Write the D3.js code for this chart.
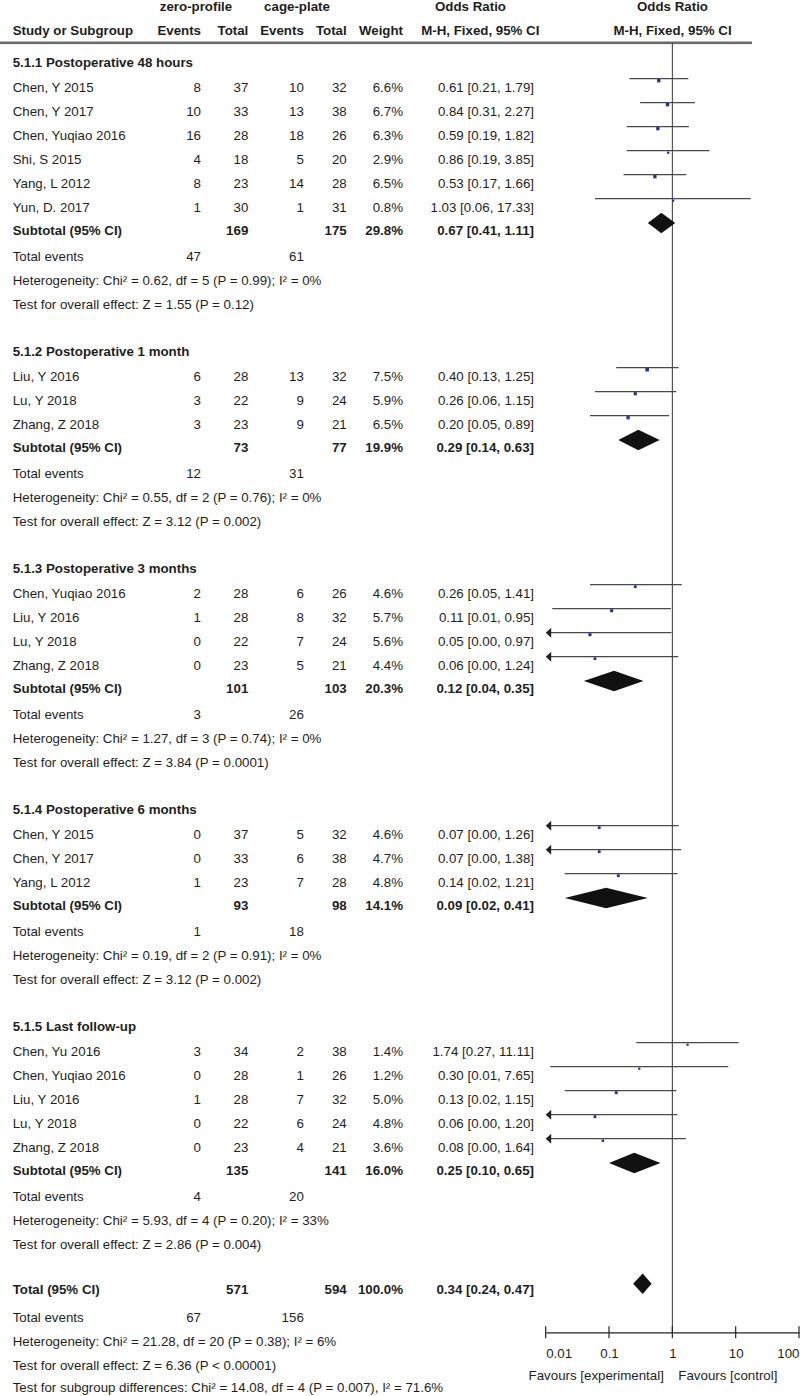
<!DOCTYPE html>
<html><head><meta charset="utf-8">
<script src="https://cdn.jsdelivr.net/npm/d3@7"></script>
<style>body{margin:0;background:#fff}svg{display:block}text{font-family:"Liberation Sans",Arial,sans-serif;font-size:13.3px;fill:#1e1e1e}</style>
</head><body><svg id="c" width="800" height="1396"></svg>
<script>
// ---------- data ----------
const groupNames = ["5.1.1 Postoperative 48 hours","5.1.2 Postoperative 1 month","5.1.3 Postoperative 3 months","5.1.4 Postoperative 6 months","5.1.5 Last follow-up"];
const studyGroup = [0,0,0,0,0,0, 1,1,1, 2,2,2,2, 3,3,3, 4,4,4,4,4];
const studyNames = ["Chen, Y 2015","Chen, Y 2017","Chen, Yuqiao 2016","Shi, S 2015","Yang, L 2012","Yun, D. 2017",
  "Liu, Y 2016","Lu, Y 2018","Zhang, Z 2018",
  "Chen, Yuqiao 2016","Liu, Y 2016","Lu, Y 2018","Zhang, Z 2018",
  "Chen, Y 2015","Chen, Y 2017","Yang, L 2012",
  "Chen, Yu 2016","Chen, Yuqiao 2016","Liu, Y 2016","Lu, Y 2018","Zhang, Z 2018"];
const expEvents = [8,10,16,4,8,1, 6,3,3, 2,1,0,0, 0,0,1, 3,0,1,0,0];
const expTotal  = [37,33,28,18,23,30, 28,22,23, 28,28,22,23, 37,33,23, 34,28,28,22,23];
const ctlEvents = [10,13,18,5,14,1, 13,9,9, 6,8,7,5, 5,6,7, 2,1,7,6,4];
const ctlTotal  = [32,38,26,20,28,31, 32,24,21, 26,32,24,21, 32,38,28, 38,26,32,24,21];
const weights   = [6.6,6.7,6.3,2.9,6.5,0.8, 7.5,5.9,6.5, 4.6,5.7,5.6,4.4, 4.6,4.7,4.8, 1.4,1.2,5.0,4.8,3.6];
const oddsRatio = [0.61,0.84,0.59,0.86,0.53,1.03, 0.40,0.26,0.20, 0.26,0.11,0.05,0.06, 0.07,0.07,0.14, 1.74,0.30,0.13,0.06,0.08];
const ciLow     = [0.21,0.31,0.19,0.19,0.17,0.06, 0.13,0.06,0.05, 0.05,0.0127,0.003,0.003, 0.003,0.003,0.02, 0.27,0.0118,0.02,0.003,0.003];
const ciHigh    = [1.79,2.27,1.82,3.85,1.66,17.33, 1.25,1.15,0.89, 1.41,0.95,0.97,1.24, 1.26,1.38,1.21, 11.11,7.65,1.15,1.20,1.64];

const subExpTotal  = [169,73,101,93,135];
const subCtlTotal  = [175,77,103,98,141];
const subWeight    = [29.8,19.9,20.3,14.1,16.0];
const subOR        = [0.67,0.29,0.12,0.09,0.25];
const subLow       = [0.41,0.14,0.04,0.02,0.10];
const subHigh      = [1.11,0.63,0.35,0.41,0.65];
const subExpEvents = [47,12,3,1,4];
const subCtlEvents = [61,31,26,18,20];
const subHet = ["Heterogeneity: Chi² = 0.62, df = 5 (P = 0.99); I² = 0%","Heterogeneity: Chi² = 0.55, df = 2 (P = 0.76); I² = 0%","Heterogeneity: Chi² = 1.27, df = 3 (P = 0.74); I² = 0%","Heterogeneity: Chi² = 0.19, df = 2 (P = 0.91); I² = 0%","Heterogeneity: Chi² = 5.93, df = 4 (P = 0.20); I² = 33%"];
const subTest = ["Test for overall effect: Z = 1.55 (P = 0.12)","Test for overall effect: Z = 3.12 (P = 0.002)","Test for overall effect: Z = 3.84 (P = 0.0001)","Test for overall effect: Z = 3.12 (P = 0.002)","Test for overall effect: Z = 2.86 (P = 0.004)"];

const totExpTotal = 571, totCtlTotal = 594, totWeight = 100.0, totOR = 0.34, totLow = 0.24, totHigh = 0.47;
const totExpEvents = 67, totCtlEvents = 156;
const totLines = ["Heterogeneity: Chi² = 21.28, df = 20 (P = 0.38); I² = 6%","Test for overall effect: Z = 6.36 (P < 0.00001)","Test for subgroup differences: Chi² = 14.08, df = 4 (P = 0.007), I² = 71.6%"];

const tickValues = [0.01,0.1,1,10,100];
const tickLabels = ["0.01","0.1","1","10","100"];
const favourLeft = "Favours [experimental]", favourRight = "Favours [control]";

// ---------- layout ----------
const svg = d3.select("#c");
const xs = d3.scaleLog().domain([0.01,100]).range([545.7,799]);
const col = {study:12.7, e1:201, t1:248.3, e2:303.8, t2:346.7, w:403, ci:534};
const f2 = d3.format(".2f"), f1 = d3.format(".1f");
const ciText = (o,l,h) => `${f2(o)} [${f2(l)}, ${f2(h)}]`;
const BL = 4.8; // baseline offset from row centre

// build row list
const rows = [];
let y = 61.7;
groupNames.forEach((g,gi) => {
  if (gi>0) y += 47;
  rows.push({type:"group", y, gi});
  y += 25.6;
  const idx = studyGroup.map((v,i)=>v===gi?i:-1).filter(i=>i>=0);
  idx.forEach((si,k) => { if(k>0) y += 24; rows.push({type:"study", y, si}); });
  y += 22.7; rows.push({type:"sub", y, gi});
  y += 25.7; rows.push({type:"te", y, gi});
  y += 24; rows.push({type:"het", y, gi});
  y += 24; rows.push({type:"test", y, gi});
});
y += 45; rows.push({type:"total", y});
y += 28; rows.push({type:"tte", y});
const extraY = [y+24.5, y+48, y+70.5];

function txt(x, yy, s, anchor, bold){
  svg.append("text").attr("x",x).attr("y",yy+BL).attr("text-anchor",anchor||"start")
    .style("font-weight",bold?"bold":"normal").text(s);
}

// headers
txt(196,6.4,"zero-profile","middle",true);
txt(297,6.4,"cage-plate","middle",true);
txt(470.5,6.4,"Odds Ratio","middle",true);
txt(672.5,6.4,"Odds Ratio","middle",true);
txt(col.study,30,"Study or Subgroup","start",true);
txt(col.e1,30,"Events","end",true);
txt(col.t1,30,"Total","end",true);
txt(col.e2,30,"Events","end",true);
txt(col.t2,30,"Total","end",true);
txt(col.w,30,"Weight","end",true);
txt(480.3,30,"M-H, Fixed, 95% CI","middle",true);
txt(672.5,30,"M-H, Fixed, 95% CI","middle",true);
svg.append("rect").attr("x",0).attr("y",41.5).attr("width",752).attr("height",2.6).attr("fill","#6a6a6a");

// vertical no-effect line
const axisY = 1332.3;
svg.append("line").attr("x1",xs(1)).attr("x2",xs(1)).attr("y1",43).attr("y2",axisY)
  .attr("stroke","#333").attr("stroke-width",1);

const lineCol = "#4a4a4a", sqCol = "#26328f";
function diamond(cy, o, l, h, hh){
  const p = [[xs(l),cy],[xs(o),cy-hh],[xs(h),cy],[xs(o),cy+hh]];
  svg.append("path").attr("d","M"+p.map(d=>d.join(",")).join("L")+"Z").attr("fill","#111");
}

rows.forEach(r => {
  if (r.type==="group") txt(col.study,r.y,groupNames[r.gi],"start",true);
  if (r.type==="study") {
    const i = r.si;
    txt(col.study,r.y,studyNames[i]);
    txt(col.e1,r.y,expEvents[i],"end");
    txt(col.t1,r.y,expTotal[i],"end");
    txt(col.e2,r.y,ctlEvents[i],"end");
    txt(col.t2,r.y,ctlTotal[i],"end");
    txt(col.w,r.y,f1(weights[i])+"%","end");
    txt(col.ci,r.y,ciText(oddsRatio[i],ciLow[i],ciHigh[i]),"end");
    const ly = r.y-8.6;
    const lo = Math.max(ciLow[i],0.01), hi = Math.min(ciHigh[i],100);
    const x1 = xs(lo) + (ciLow[i]<0.01?3:0);
    svg.append("line").attr("x1",x1).attr("x2",xs(hi)).attr("y1",ly).attr("y2",ly)
      .attr("stroke",lineCol).attr("stroke-width",1.3);
    if (ciLow[i]<0.01) {
      const tx = xs(0.01);
      svg.append("path").attr("d",`M${tx},${ly}L${tx+5.5},${ly-5}L${tx+5.5},${ly+5}Z`).attr("fill","#222");
    }
    const s = Math.max(2.2, 1.3*Math.sqrt(weights[i]));
    svg.append("rect").attr("x",xs(oddsRatio[i])-s/2).attr("y",ly+2-s/2).attr("width",s).attr("height",s).attr("fill",sqCol);
  }
  if (r.type==="sub") {
    const g = r.gi;
    txt(col.study,r.y,"Subtotal (95% CI)","start",true);
    txt(col.t1,r.y,subExpTotal[g],"end",true);
    txt(col.t2,r.y,subCtlTotal[g],"end",true);
    txt(col.w,r.y,f1(subWeight[g])+"%","end",true);
    txt(col.ci,r.y,ciText(subOR[g],subLow[g],subHigh[g]),"end",true);
    diamond(r.y-7, subOR[g], subLow[g], subHigh[g], 10.2);
  }
  if (r.type==="te") {
    txt(col.study,r.y,"Total events");
    txt(col.e1,r.y,subExpEvents[r.gi],"end");
    txt(col.e2,r.y,subCtlEvents[r.gi],"end");
  }
  if (r.type==="het") txt(col.study,r.y,subHet[r.gi]);
  if (r.type==="test") txt(col.study,r.y,subTest[r.gi]);
  if (r.type==="total") {
    txt(col.study,r.y,"Total (95% CI)","start",true);
    txt(col.t1,r.y,totExpTotal,"end",true);
    txt(col.t2,r.y,totCtlTotal,"end",true);
    txt(col.w,r.y,f1(totWeight)+"%","end",true);
    txt(col.ci,r.y,ciText(totOR,totLow,totHigh),"end",true);
    diamond(r.y-5, totOR, totLow, totHigh, 10.3);
  }
  if (r.type==="tte") {
    txt(col.study,r.y,"Total events");
    txt(col.e1,r.y,totExpEvents,"end");
    txt(col.e2,r.y,totCtlEvents,"end");
  }
});
totLines.forEach((s,k)=>txt(col.study,extraY[k],s));

// axis
const ax = svg.append("g").attr("transform",`translate(0,${axisY})`)
  .call(d3.axisBottom(xs).tickValues(tickValues).tickFormat((d,i)=>tickLabels[i]).tickSize(0).tickPadding(16));
ax.select(".domain").attr("stroke","#222").attr("stroke-width",1.2);
ax.selectAll(".tick text").attr("font-size",null).attr("font-family",null).style("font-size","13.3px").attr("fill","#1e1e1e")
  .attr("text-anchor",(d,i)=> i===0 ? "start" : (i===tickValues.length-1 ? "end" : "middle"));
svg.selectAll(".tickmark").data(tickValues).join("line").attr("class","tickmark")
  .attr("x1",d=>xs(d)).attr("x2",d=>xs(d)).attr("y1",axisY-6).attr("y2",axisY+6)
  .attr("stroke","#222").attr("stroke-width",1.2);
txt(xs(1)-8.5,1375,favourLeft,"end");
txt(xs(1)+6,1375,favourRight,"start");
</script></body></html>
